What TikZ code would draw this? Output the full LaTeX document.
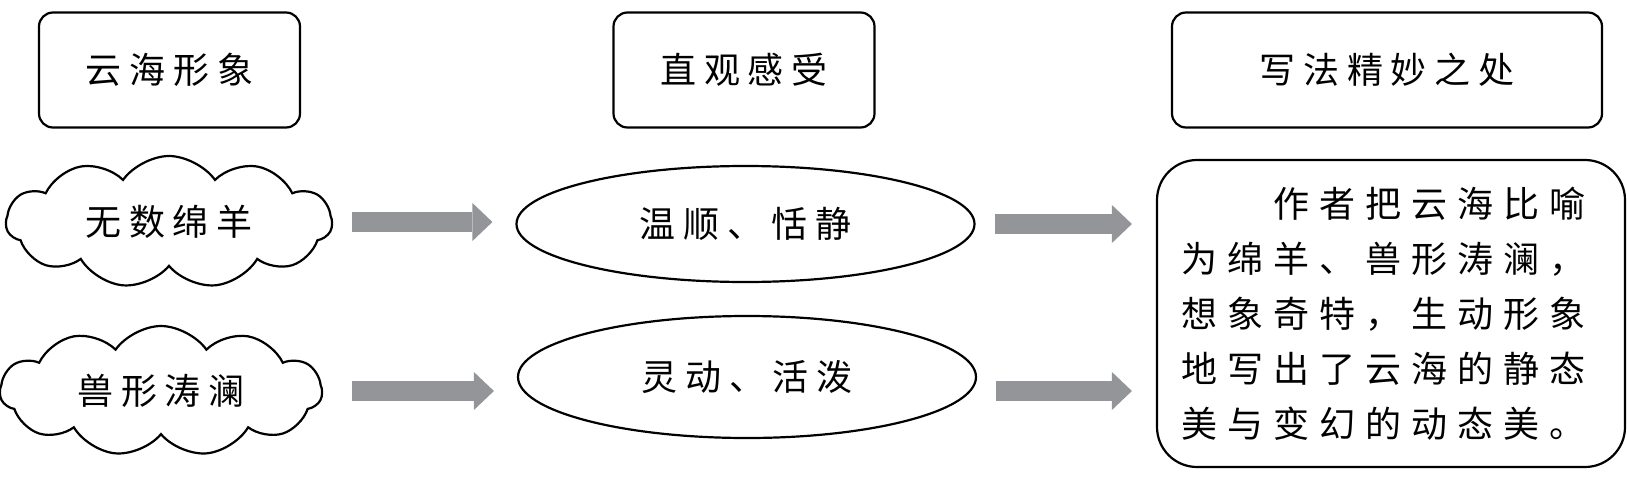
\documentclass[tikz,border=0pt]{standalone}
\usepackage{fontspec}
\newfontfamily\cjk{Noto Sans CJK SC}[LetterSpace=22]
\newfontfamily\cjknote{Noto Sans CJK SC}[LetterSpace=28]
\usetikzlibrary{shapes.geometric,shapes.symbols,arrows.meta,positioning}
\definecolor{arrowgray}{RGB}{147,149,152}
\tikzset{
    head box/.style={draw,line width=2.2pt,rounded corners=14pt,
        minimum height=115pt,inner sep=0pt,
        font=\cjk\fontsize{36}{44}\selectfont},
    cloud box/.style={draw,cloud,cloud puffs=11,cloud puff arc=110,
        cloud ignores aspect,line width=2.2pt,inner sep=0pt,
        font=\cjk\fontsize{36}{44}\selectfont},
    feel box/.style={draw,ellipse,line width=2.2pt,inner sep=0pt,
        minimum width=458pt,font=\cjk\fontsize{36}{44}\selectfont},
    fat arrow/.style={arrowgray,line width=20pt,
        -{Triangle[width=38pt,length=20pt,line width=0pt]}}
}
\begin{document}
\begin{tikzpicture}[x=1pt,y=-1pt]
\useasboundingbox (0,0) rectangle (1627,482);

% ========= Headings =========
\node[head box,minimum width=261pt] (Head1) at (169.5,70) {云海形象};
\node[head box,minimum width=261pt] (Head2) at (744,70) {直观感受};
\node[head box,minimum width=430pt] (Head3) at (1387,70) {写法精妙之处};

% ========= Images =========
\node[cloud box,minimum width=326pt,minimum height=132pt] (Cloud1) at (169,222) {无数绵羊};
\node[cloud box,minimum width=322pt,minimum height=130pt] (Cloud2) at (161,391) {兽形涛澜};

% ========= Feelings =========
\node[feel box,minimum height=116pt] (Feel1) at (745.5,224) {温顺、恬静};
\node[feel box,minimum height=122pt] (Feel2) at (747,377) {灵动、活泼};

% ========= Note =========
\node[draw,line width=2.2pt,rounded corners=40pt,minimum width=468pt,
    minimum height=307pt,text width=420pt,align=left,inner sep=0pt,
    font=\cjknote\fontsize{36}{55}\selectfont] (Note) at (1391,313.5)
    {\hspace*{92pt}作者把云海比喻\\为绵羊、兽形涛澜，\\想象奇特，生动形象\\地写出了云海的静态\\美与变幻的动态美。};

% == arrows ==%
\draw[fat arrow,shorten <=19pt,shorten >=23pt] (Cloud1.east) -- (Cloud1.east -| Feel1.west);
\draw[fat arrow,shorten <=29pt,shorten >=23pt] (Cloud2.east) -- (Cloud2.east -| Feel2.west);
\draw[fat arrow,shorten <=19pt,shorten >=24pt] (Feel1.east) -- (Feel1.east -| Note.west);
\draw[fat arrow,shorten <=19pt,shorten >=24pt] (Cloud2.east -| Feel2.east) -- (Cloud2.east -| Note.west);

\end{tikzpicture}
\end{document}
